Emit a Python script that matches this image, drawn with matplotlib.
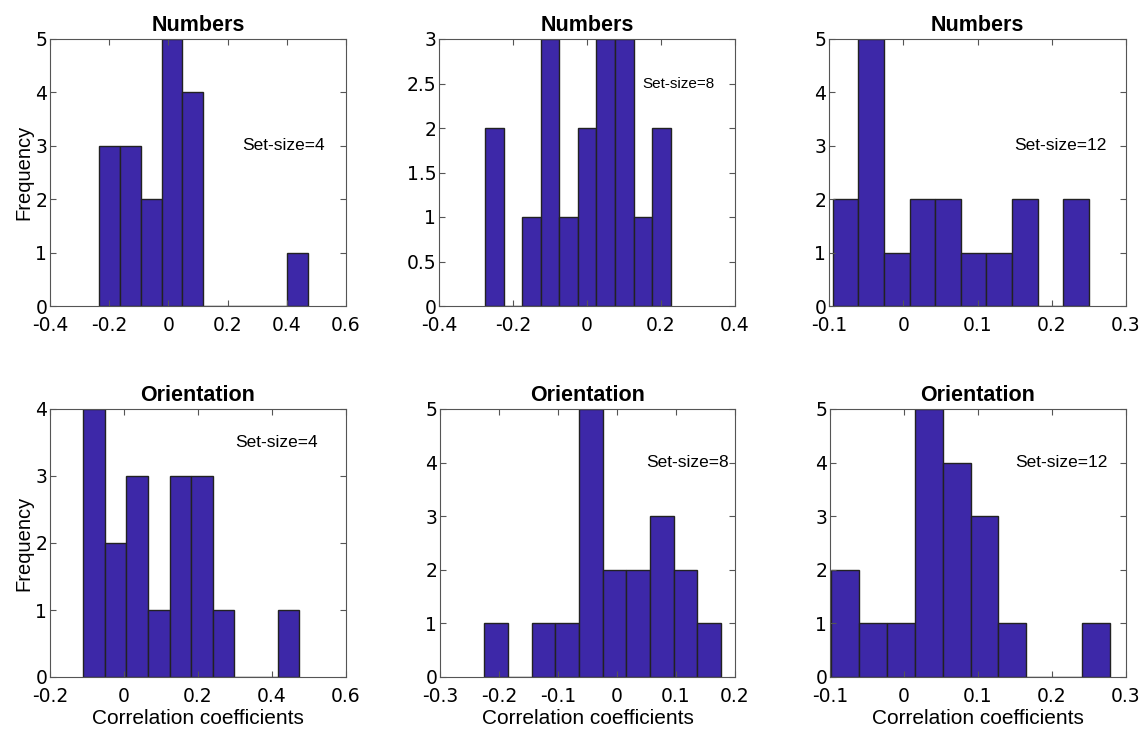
import numpy as np
import matplotlib
matplotlib.use("Agg")
import matplotlib.pyplot as plt

# histogram counts (10 bins each) and the range the bins span
titles = ["Numbers", "Numbers", "Numbers", "Orientation", "Orientation", "Orientation"]
set_sizes = ["Set-size=4", "Set-size=8", "Set-size=12", "Set-size=4", "Set-size=8", "Set-size=12"]

num4_counts = [3, 3, 2, 5, 4, 0, 0, 0, 0, 1]
num8_counts = [2, 0, 1, 3, 1, 2, 3, 3, 1, 2]
num12_counts = [2, 5, 1, 2, 2, 1, 1, 2, 0, 2]
ori4_counts = [4, 2, 3, 1, 3, 3, 1, 0, 0, 1]
ori8_counts = [1, 0, 1, 1, 5, 2, 2, 3, 2, 1]
ori12_counts = [2, 1, 1, 5, 4, 3, 1, 0, 0, 1]

num4_range = (-0.236, 0.473)
num8_range = (-0.275, 0.226)
num12_range = (-0.095, 0.250)
ori4_range = (-0.111, 0.474)
ori8_range = (-0.225, 0.176)
ori12_range = (-0.098, 0.278)

counts = [num4_counts, num8_counts, num12_counts, ori4_counts, ori8_counts, ori12_counts]
ranges = [num4_range, num8_range, num12_range, ori4_range, ori8_range, ori12_range]

xlims = [(-0.4, 0.6), (-0.4, 0.4), (-0.1, 0.3), (-0.2, 0.6), (-0.3, 0.2), (-0.1, 0.3)]
xticks = [[-0.4, -0.2, 0, 0.2, 0.4, 0.6],
          [-0.4, -0.2, 0, 0.2, 0.4],
          [-0.1, 0, 0.1, 0.2, 0.3],
          [-0.2, 0, 0.2, 0.4, 0.6],
          [-0.3, -0.2, -0.1, 0, 0.1, 0.2],
          [-0.1, 0, 0.1, 0.2, 0.3]]
ylims = [5, 3, 5, 4, 5, 5]
yticks = [[0, 1, 2, 3, 4, 5],
          [0, 0.5, 1, 1.5, 2, 2.5, 3],
          [0, 1, 2, 3, 4, 5],
          [0, 1, 2, 3, 4],
          [0, 1, 2, 3, 4, 5],
          [0, 1, 2, 3, 4, 5]]
label_xy = [(0.25, 3), (0.15, 2.5), (0.15, 3), (0.30, 3.5), (0.05, 4), (0.15, 4)]
label_size = [12.5, 11, 12.5, 12.5, 12.5, 12.5]

bar_color = "#3d28a8"

fig = plt.figure(figsize=(11.43, 7.33), dpi=100)
W, H = 1143, 733
boxes = [(50, 39, 296, 267), (439, 39, 296, 267), (829, 39, 297, 267),
         (50, 409, 296, 268), (440, 409, 295, 268), (830, 409, 296, 268)]

tick_font = "DejaVu Sans"
text_font = "Liberation Sans"

for i in range(6):
    x0, y0, w, h = boxes[i]
    ax = fig.add_axes([x0 / W, 1 - (y0 + h) / H, w / W, h / H])
    lo, hi = ranges[i]
    edges = np.linspace(lo, hi, len(counts[i]) + 1)
    ax.bar(edges[:-1], counts[i], width=np.diff(edges), align="edge",
           color=bar_color, edgecolor="#222222", linewidth=1.0)
    ax.set_xlim(*xlims[i])
    ax.set_ylim(0, ylims[i])
    ax.set_xticks(xticks[i])
    ax.set_yticks(yticks[i])
    ax.set_xticklabels([f"{v:g}" for v in xticks[i]], fontsize=13.5, family=tick_font)
    ax.set_yticklabels([f"{v:g}" for v in yticks[i]], fontsize=13.5, family=tick_font)
    ax.tick_params(direction="in", top=True, right=True, length=4,
                   color="#555555")
    ax.tick_params(axis="x", pad=7)
    ax.tick_params(axis="y", pad=2)
    for s in ax.spines.values():
        s.set_color("#555555")
        s.set_linewidth(0.8)
    ax.set_title(titles[i], fontsize=15.5, fontweight="bold", family=text_font, pad=6)
    ax.text(label_xy[i][0], label_xy[i][1], set_sizes[i], fontsize=label_size[i],
            family=text_font, va="center", ha="left")
    if i % 3 == 0:
        ax.set_ylabel("Frequency", fontsize=14.5, family=text_font, labelpad=1)
    if i >= 3:
        ax.set_xlabel("Correlation coefficients", fontsize=15, family=text_font, labelpad=2)

fig.savefig("out.png", dpi=100)
